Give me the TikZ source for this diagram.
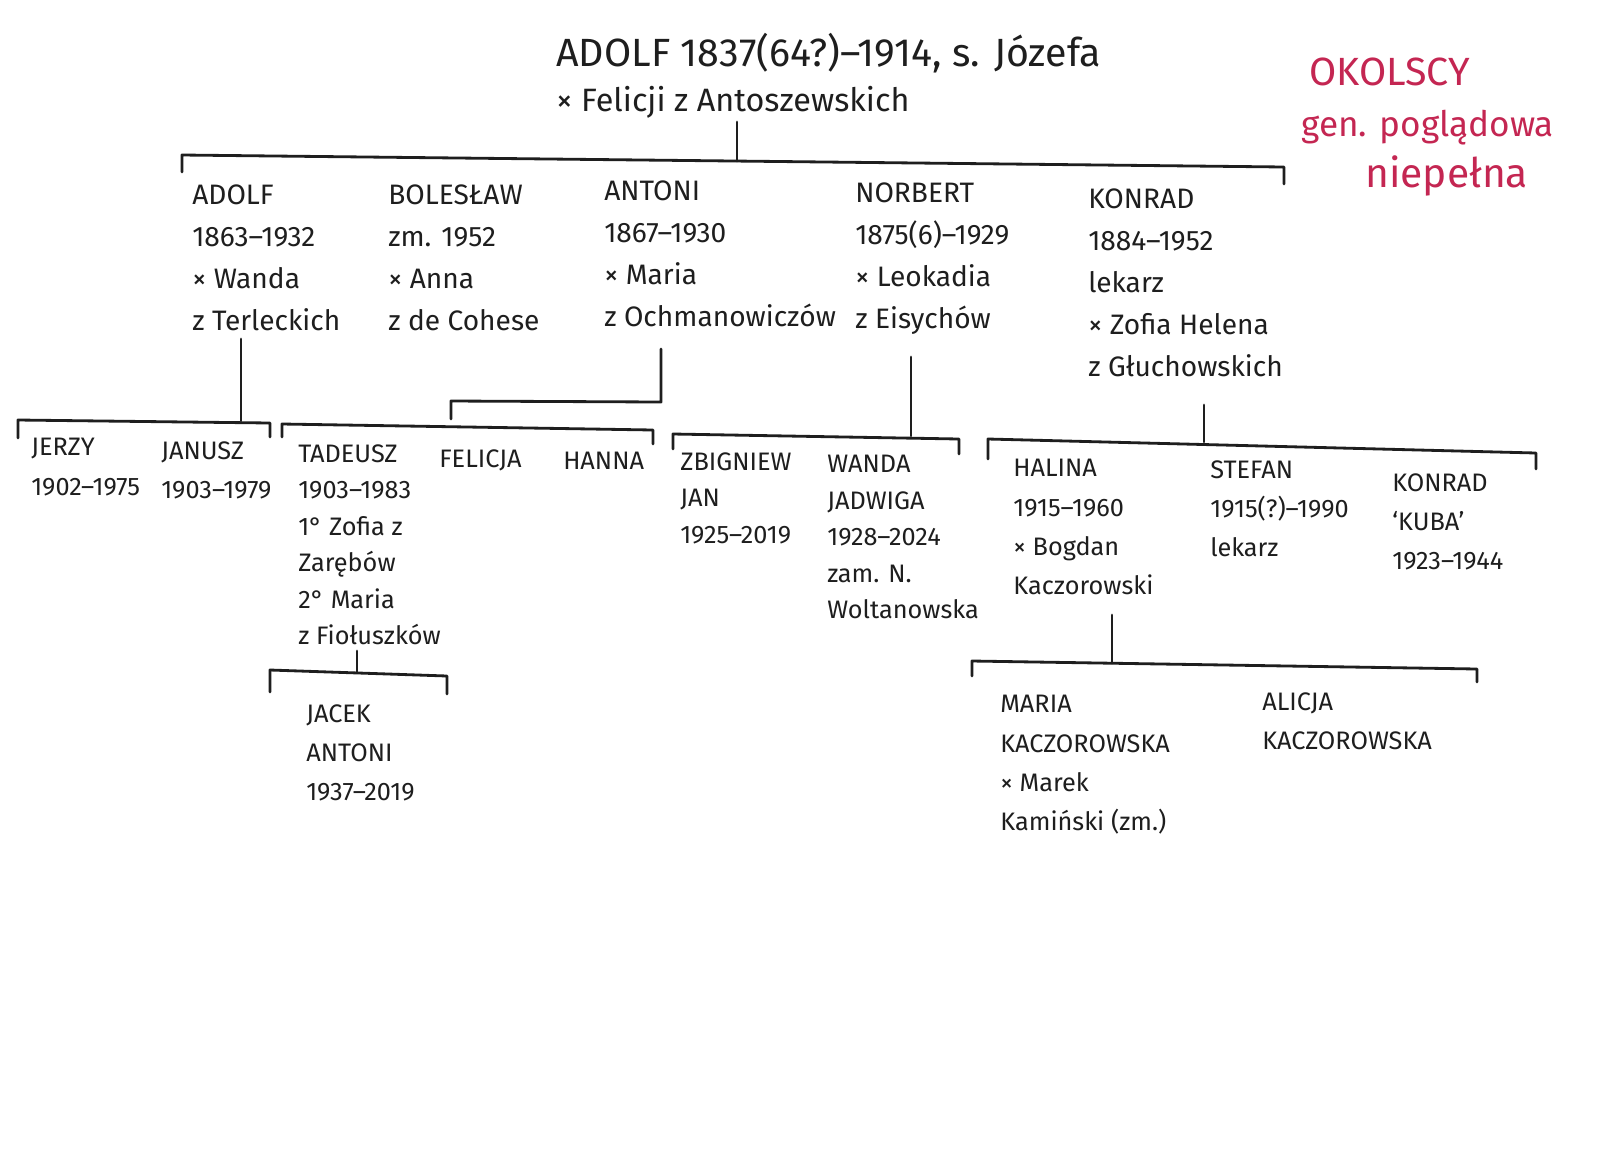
\documentclass[tikz,border=0pt]{standalone}
\usepackage{fontspec}
\setmainfont{Fira Sans}
\definecolor{inkred}{RGB}{196,38,82}
\definecolor{ink}{RGB}{30,30,30}
\begin{document}
\begin{tikzpicture}[x=0.25mm, y=-0.25mm,
    p/.style={anchor=north west, align=left, inner sep=0pt, text=ink,
      font=\fontsize{20}{30}\selectfont},
    g2/.style={p, font=\fontsize{18}{28}\selectfont},
    bar/.style={draw=ink, line width=2pt, line cap=round, line join=round}]
    \fill[white] (0,0) rectangle (1600,1163);
    \useasboundingbox (0,0) rectangle (1600,1163);

    % root couple and note
    \node[p, font=\fontsize{28}{32}\selectfont] (root) at (556,33)
        {ADOLF 1837(64?)–1914, s. Józefa\\{\fontsize{23}{32}\selectfont × Felicji z Antoszewskich}};
    \node[p, text=inkred, font=\fontsize{25}{36}\selectfont] (note) at (1301,58)
        {\hspace*{2mm}{\fontsize{28}{36}\selectfont OKOLSCY}\\gen. poglądowa\\\hspace*{16mm}{\fontsize{29}{36}\selectfont niepełna}};

    % children
    \node[p] (adolf) at (192,184) {ADOLF\\1863–1932\\× Wanda\\z Terleckich};
    \node[p] (boleslaw) at (388,184) {BOLESŁAW\\zm. 1952\\× Anna\\z de Cohese};
    \node[p] (antoni) at (604,180) {ANTONI\\1867–1930\\× Maria\\z Ochmanowiczów};
    \node[p] (norbert) at (855,182) {NORBERT\\1875(6)–1929\\× Leokadia\\z Eisychów};
    \node[p] (konrad) at (1088,188) {KONRAD\\1884–1952\\lekarz\\× Zofia Helena\\z Głuchowskich};

    % grandchildren
    \node[g2] (jerzy) at (31,438) {JERZY\\1902–1975};
    \node[g2] (janusz) at (161,441) {JANUSZ\\1903–1979};
    \node[g2, font=\fontsize{18}{26}\selectfont] (tadeusz) at (298,444)
        {TADEUSZ\\1903–1983\\1° Zofia z\\Zarębów\\2° Maria\\z Fiołuszków};
    \node[g2] (felicja) at (439,449) {FELICJA};
    \node[g2] (hanna) at (563,452) {HANNA};
    \node[g2, font=\fontsize{18}{26}\selectfont] (zbigniew) at (680,452) {ZBIGNIEW\\JAN\\1925–2019};
    \node[g2, font=\fontsize{18}{26}\selectfont] (wanda) at (827,455)
        {WANDA\\JADWIGA\\1928–2024\\zam. N.\\Woltanowska};
    \node[g2] (halina) at (1013,459) {HALINA\\1915–1960\\× Bogdan\\Kaczorowski};
    \node[g2] (stefan) at (1210,460) {STEFAN\\1915(?)–1990\\lekarz};
    \node[g2] (kuba) at (1392,473) {KONRAD\\‘KUBA’\\1923–1944};

    % great-grandchildren
    \node[g2] (jacek) at (306,704) {JACEK\\ANTONI\\1937–2019};
    \node[g2] (maria) at (1000,695) {MARIA\\KACZOROWSKA\\× Marek\\Kamiński (zm.)};
    \node[g2] (alicja) at (1262,692) {ALICJA\\KACZOROWSKA};

    % Adolf + Felicja
    \coordinate (r0) at (737,122);
    \coordinate (r1) at (737,161);
    \coordinate (r2) at (182,172);
    \coordinate (r3) at (182,155);
    \coordinate (r4) at (1284,167);
    \coordinate (r5) at (1284,184);
    \draw[bar] (r0) -- (r1);
    \draw[bar] (r2) -- (r3) -- (r4) -- (r5);

    % Adolf + Wanda
    \coordinate (a0) at (241,339);
    \coordinate (a1) at (241,421);
    \coordinate (a2) at (18,438);
    \coordinate (a3) at (18,420);
    \coordinate (a4) at (270,423);
    \coordinate (a5) at (270,437);
    \draw[bar] (a0) -- (a1);
    \draw[bar] (a2) -- (a3) -- (a4) -- (a5);

    % Antoni + Maria
    \coordinate (n0) at (661,349);
    \coordinate (n1) at (661,402);
    \coordinate (n2) at (451,401);
    \coordinate (n3) at (451,419);
    \coordinate (n4) at (282,437);
    \coordinate (n5) at (282,424);
    \coordinate (n6) at (653,430);
    \coordinate (n7) at (653,444);
    \draw[bar] (n0) -- (n1) -- (n2) -- (n3);
    \draw[bar] (n4) -- (n5) -- (n6) -- (n7);

    % Norbert + Leokadia
    \coordinate (o0) at (911,357);
    \coordinate (o1) at (911,436);
    \coordinate (o2) at (673,449);
    \coordinate (o3) at (673,434);
    \coordinate (o4) at (959,439);
    \coordinate (o5) at (959,454);
    \draw[bar] (o0) -- (o1);
    \draw[bar] (o2) -- (o3) -- (o4) -- (o5);

    % Konrad + Zofia Helena
    \coordinate (k0) at (1204,405);
    \coordinate (k1) at (1204,442);
    \coordinate (k2) at (988,459);
    \coordinate (k3) at (988,439);
    \coordinate (k4) at (1536,453);
    \coordinate (k5) at (1536,469);
    \draw[bar] (k0) -- (k1);
    \draw[bar] (k2) -- (k3) -- (k4) -- (k5);

    % Halina + Bogdan
    \coordinate (h0) at (1112,615);
    \coordinate (h1) at (1112,663);
    \coordinate (h2) at (972,676);
    \coordinate (h3) at (972,661);
    \coordinate (h4) at (1477,669);
    \coordinate (h5) at (1477,682);
    \draw[bar] (h0) -- (h1);
    \draw[bar] (h2) -- (h3) -- (h4) -- (h5);

    % Tadeusz
    \coordinate (t0) at (357,651);
    \coordinate (t1) at (357,672);
    \coordinate (t2) at (270,692);
    \coordinate (t3) at (270,670);
    \coordinate (t4) at (447,676);
    \coordinate (t5) at (447,694);
    \draw[bar] (t0) -- (t1);
    \draw[bar] (t2) -- (t3) -- (t4) -- (t5);
\end{tikzpicture}
\end{document}
